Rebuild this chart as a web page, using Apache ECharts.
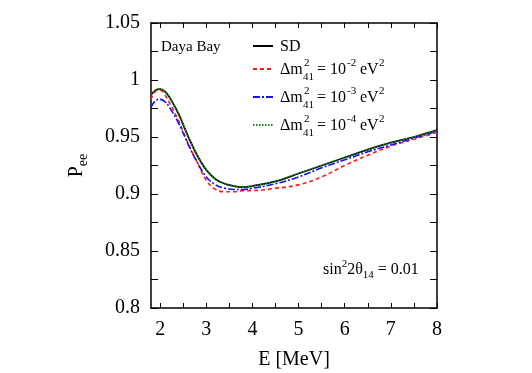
<!DOCTYPE html>
<html>
<head>
<meta charset="utf-8">
<title>Pee Daya Bay</title>
<script src="https://cdn.jsdelivr.net/npm/echarts@6/dist/echarts.min.js"></script>
</head>
<body style="margin:0;background:#fff">
<div id="main" style="width:532px;height:373px;"></div>
<script type="text/javascript">
// energy grid [MeV] and survival probabilities
var energy = [1.8, 1.9, 2.0, 2.1, 2.2, 2.4, 2.6, 2.8, 3.0, 3.2, 3.4, 3.6, 3.8, 4.0, 4.5, 5.0, 5.5, 6.0, 6.5, 7.0, 7.5, 8.0];
var pSD   = [0.987, 0.991, 0.992, 0.990, 0.985, 0.970, 0.951, 0.934, 0.921, 0.913, 0.909, 0.907, 0.906, 0.907, 0.911, 0.918, 0.925, 0.932, 0.939, 0.945, 0.950, 0.956];
var pDm2  = [0.983, 0.990, 0.991, 0.987, 0.980, 0.964, 0.945, 0.928, 0.912, 0.904, 0.902, 0.902, 0.903, 0.903, 0.905, 0.908, 0.915, 0.925, 0.934, 0.942, 0.948, 0.954];
var pDm3  = [0.976, 0.982, 0.983, 0.981, 0.976, 0.962, 0.944, 0.928, 0.915, 0.908, 0.905, 0.904, 0.904, 0.905, 0.909, 0.915, 0.923, 0.930, 0.937, 0.943, 0.949, 0.955];
var pDm4  = [0.987, 0.991, 0.992, 0.990, 0.985, 0.970, 0.951, 0.934, 0.921, 0.913, 0.909, 0.907, 0.906, 0.907, 0.911, 0.918, 0.925, 0.932, 0.939, 0.945, 0.950, 0.956];

var xLabels = [2, 3, 4, 5, 6, 7, 8];
var xTicks = [2, 2.5, 3, 3.5, 4, 4.5, 5, 5.5, 6, 6.5, 7, 7.5, 8];
var yLabels = [0.8, 0.85, 0.9, 0.95, 1, 1.05];

var seriesNames = ['SD', 'dm2', 'dm3', 'dm4'];
var serif = 'Liberation Serif';

function pairs(ys) {
    return energy.map(function (e, i) { return [e, ys[i]]; });
}

function line(name, ys, color, type, width) {
    return {
        name: name, type: 'line', data: pairs(ys),
        smooth: 0.4, symbol: 'none', xAxisIndex: 0, yAxisIndex: 0,
        lineStyle: { color: color, type: type, width: width },
        itemStyle: { color: color }
    };
}

// one legend per row so the rows can have uneven spacing like the original
var rowY = [46, 69, 97, 125];
var legends = seriesNames.map(function (n, i) {
    return {
        data: [n], left: 252, top: rowY[i] - 7, padding: 0,
        itemWidth: 20, itemHeight: 14, itemStyle: { opacity: 0 },
        formatter: function () { return ''; }
    };
});

// Δm^2_41 = 10^-k eV^2 label, stacked super/subscript
function dmLabel(y, k) {
    var x = 280;
    return [
        { type: 'text', x: x, y: y + 1, style: { text: 'Δm', font: '16px ' + serif, fill: '#000', verticalAlign: 'middle' } },
        { type: 'text', x: x + 24, y: y - 6, style: { text: '2', font: '11px ' + serif, fill: '#000', verticalAlign: 'middle' } },
        { type: 'text', x: x + 23, y: y + 8, style: { text: '41', font: '11px ' + serif, fill: '#000', verticalAlign: 'middle' } },
        { type: 'text', x: x + 37, y: y + 1, style: { text: '= 10', font: '16px ' + serif, fill: '#000', verticalAlign: 'middle' } },
        { type: 'text', x: x + 67, y: y - 6, style: { text: '-' + k, font: '11px ' + serif, fill: '#000', verticalAlign: 'middle' } },
        { type: 'text', x: x + 80, y: y + 1, style: { text: 'eV', font: '16px ' + serif, fill: '#000', verticalAlign: 'middle' } },
        { type: 'text', x: x + 99, y: y - 6, style: { text: '2', font: '11px ' + serif, fill: '#000', verticalAlign: 'middle' } }
    ];
}

var graphics = [
    { type: 'text', x: 161, y: 47, style: { text: 'Daya Bay', font: '15px ' + serif, fill: '#000', verticalAlign: 'middle' } },
    { type: 'text', x: 280, y: 47, style: { text: 'SD', font: '16px ' + serif, fill: '#000', verticalAlign: 'middle' } }
].concat(dmLabel(69, 2), dmLabel(97, 3), dmLabel(125, 4));

graphics.push({
    type: 'text', x: 323, y: 259,
    style: {
        text: '{n|sin}{p|2}{n|2θ}{b|14}{n| = 0.01}',
        fill: '#000',
        rich: {
            n: { fontFamily: serif, fontSize: 16, lineHeight: 22, verticalAlign: 'middle' },
            p: { fontFamily: serif, fontSize: 11, verticalAlign: 'top' },
            b: { fontFamily: serif, fontSize: 11, verticalAlign: 'bottom' }
        }
    }
});

var axisText = { fontFamily: serif, fontSize: 20, color: '#000' };
var frameLine = { lineStyle: { color: '#000', width: 1.5 } };

var myChart = echarts.init(document.getElementById('main'));
var option = {
    backgroundColor: '#fff',
    animation: false,
    grid: { left: 151, right: 95, top: 23, bottom: 65, outerBoundsMode: 'none' },
    legend: legends,
    xAxis: [{
        type: 'value', position: 'bottom', min: 1.8, max: 8,
        name: 'E [MeV]', nameLocation: 'middle', nameGap: 42,
        nameTextStyle: axisText,
        axisLine: frameLine,
        axisTick: { inside: true, length: 5, customValues: xTicks, lineStyle: { color: '#000' } },
        axisLabel: Object.assign({ margin: 12, customValues: xLabels }, axisText),
        splitLine: { show: false }
    }, {
        type: 'value', position: 'top', min: 1.8, max: 8,
        axisLine: frameLine,
        axisTick: { inside: true, length: 5, customValues: xTicks, lineStyle: { color: '#000' } },
        axisLabel: { show: false },
        splitLine: { show: false }
    }],
    yAxis: [{
        type: 'value', position: 'left', min: 0.8, max: 1.05, interval: 0.025,
        name: '{p|P}{s|ee}', nameLocation: 'middle', nameGap: 61, nameRotate: 90,
        nameTextStyle: {
            rich: {
                p: { fontFamily: serif, fontSize: 20, color: '#000', lineHeight: 26, verticalAlign: 'middle' },
                s: { fontFamily: serif, fontSize: 14, color: '#000', verticalAlign: 'bottom' }
            }
        },
        axisLine: frameLine,
        axisTick: { inside: true, length: 7, lineStyle: { color: '#000' } },
        axisLabel: Object.assign({ margin: 11, customValues: yLabels }, axisText),
        splitLine: { show: false }
    }, {
        type: 'value', position: 'right', min: 0.8, max: 1.05, interval: 0.025,
        axisLine: frameLine,
        axisTick: { inside: true, length: 7, lineStyle: { color: '#000' } },
        axisLabel: { show: false },
        splitLine: { show: false }
    }],
    series: [
        line('SD', pSD, '#000000', 'solid', 1.8),
        line('dm2', pDm2, '#ff1a1a', [4, 3], 1.6),
        line('dm3', pDm3, '#1010ff', [7, 2, 2, 2], 1.6),
        line('dm4', pDm4, '#1a8c1a', [1.5, 1.5], 1.6)
    ],
    graphic: graphics
};
myChart.setOption(option);
</script>
</body>
</html>
